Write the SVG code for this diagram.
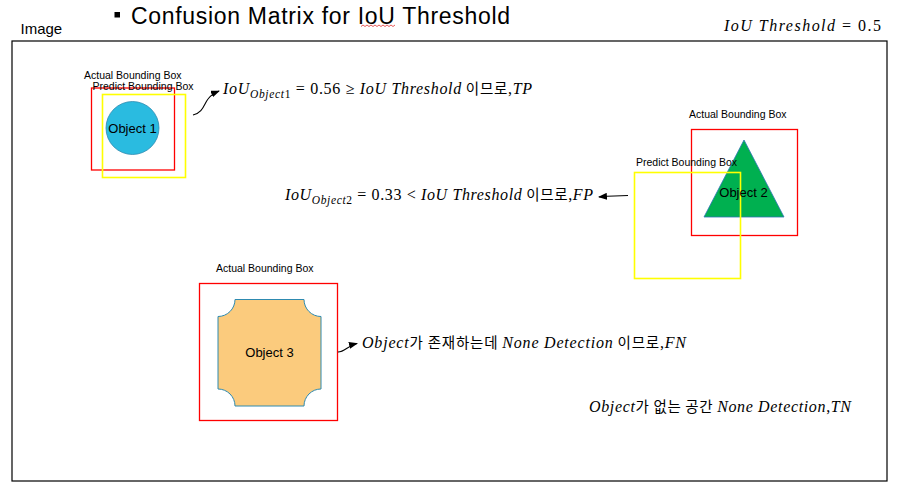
<svg xmlns="http://www.w3.org/2000/svg" width="901" height="499" viewBox="0 0 901 499">
<style>
.sans{font-family:"Liberation Sans",Arial,sans-serif;fill:#000}
.lbl{font-family:"Liberation Sans",Arial,sans-serif;font-size:10.5px;fill:#000}
.obj{font-family:"Liberation Sans",Arial,sans-serif;font-size:13px;fill:#000;text-anchor:middle}
.m{font-family:"Liberation Serif","Times New Roman",serif;font-size:16px;fill:#000}
.i{font-style:italic}
.k{font-family:"Noto Sans CJK KR",sans-serif;font-size:14.5px}
.act{fill:none;stroke:#FF0000;stroke-width:1.3}
.pred{fill:none;stroke:#FFFF00;stroke-width:1.6}
.conn{fill:none;stroke:#000;stroke-width:1.1;marker-end:url(#ah)}
</style>
<defs>
<marker id="ah" markerWidth="9" markerHeight="7" refX="8" refY="3.5" orient="auto" markerUnits="userSpaceOnUse">
<path d="M0,0 L9,3.5 L0,7 Z" fill="#000"/>
</marker>
</defs>
<rect width="901" height="499" fill="#fff"/>

<g id="title">
<rect x="114.5" y="12" width="5.5" height="5.5" fill="#000"/>
<text x="131" y="24" class="sans" font-size="23" textLength="379">Confusion Matrix for IoU Threshold</text>
<path d="M361,26.5 l2,-1.5 l2,1.5 l2,-1.5 l2,1.5 l2,-1.5 l2,1.5 l2,-1.5 l2,1.5 l2,-1.5 l2,1.5 l2,-1.5 l2,1.5 l2,-1.5 l2,1.5 l2,-1.5 l2,1.5 l2,-1.5" fill="none" stroke="#E03030" stroke-width="0.8"/>
</g>

<g id="image-frame">
<text x="20.5" y="34" class="sans" font-size="15">Image</text>
<rect x="12" y="41" width="875" height="440" fill="none" stroke="#000" stroke-width="1.2"/>
</g>

<g id="threshold">
<text x="724" y="31" class="m" font-size="17" textLength="157"><tspan class="i">IoU Threshold</tspan> = 0.5</text>
</g>

<g id="object1">
<rect x="91.5" y="88" width="83" height="82" class="act"/>
<rect x="102.5" y="94.5" width="83" height="83" class="pred"/>
<circle cx="132.5" cy="128" r="26.5" fill="#2ABBE0" stroke="#2E8AB0" stroke-width="0.8"/>
<text x="132.5" y="132.5" class="obj">Object 1</text>
<text x="84" y="79" class="lbl">Actual Bounding Box</text>
<text x="92.5" y="89.5" class="lbl">Predict Bounding Box</text>
</g>

<g id="object2">
<rect x="691.5" y="129.5" width="106" height="106" class="act"/>
<polygon points="744,140 784,217 704,217" fill="#00B050" stroke="#2E75B6" stroke-width="0.8"/>
<rect x="634.5" y="172.5" width="106" height="106" class="pred"/>
<text x="743.5" y="197" class="obj">Object 2</text>
<text x="689" y="117.5" class="lbl">Actual Bounding Box</text>
<text x="636" y="165.5" class="lbl">Predict Bounding Box</text>
</g>

<g id="object3">
<rect x="199.5" y="283.5" width="138" height="137" class="act"/>
<path d="M235,299.5 H304 A17,17 0 0 0 321,316.5 V389 A17,17 0 0 0 304,406 H235 A17,17 0 0 0 218,389 V316.5 A17,17 0 0 0 235,299.5 Z" fill="#FBCB7D" stroke="#2E8AB0" stroke-width="1"/>
<text x="269.5" y="357" class="obj">Object 3</text>
<text x="216" y="271.5" class="lbl">Actual Bounding Box</text>
</g>

<g id="connectors">
<path d="M193,115 C203,113 204,104 208,99 C211,95 214,93 219,91" class="conn"/>
<path d="M628,195.5 C618,195.5 610,196 599,197" class="conn"/>
<path d="M338,352 C345,352 347,346 357,343.5" class="conn"/>
</g>

<g id="tp-label">
<text x="223" y="94" class="m" textLength="309"><tspan class="i">IoU</tspan><tspan class="i" font-size="11.5" dy="4">Object</tspan><tspan font-size="11.5">1</tspan><tspan dy="-4"> = 0.56 ≥ </tspan><tspan class="i">IoU Threshold</tspan><tspan class="k"> 이므로</tspan>,<tspan class="i">TP</tspan></text>
</g>

<g id="fp-label">
<text x="285" y="200" class="m" textLength="308"><tspan class="i">IoU</tspan><tspan class="i" font-size="11.5" dy="4">Object</tspan><tspan font-size="11.5">2</tspan><tspan dy="-4"> = 0.33 &lt; </tspan><tspan class="i">IoU Threshold</tspan><tspan class="k"> 이므로</tspan>,<tspan class="i">FP</tspan></text>
</g>

<g id="fn-label">
<text x="362" y="347.5" class="m" textLength="324"><tspan class="i">Object</tspan><tspan class="k">가 존재하는데 </tspan><tspan class="i">None Detection</tspan><tspan class="k"> 이므로</tspan>,<tspan class="i">FN</tspan></text>
</g>

<g id="tn-label">
<text x="589" y="412" class="m" textLength="262"><tspan class="i">Object</tspan><tspan class="k">가 없는 공간 </tspan><tspan class="i">None Detection</tspan>,<tspan class="i">TN</tspan></text>
</g>
</svg>
